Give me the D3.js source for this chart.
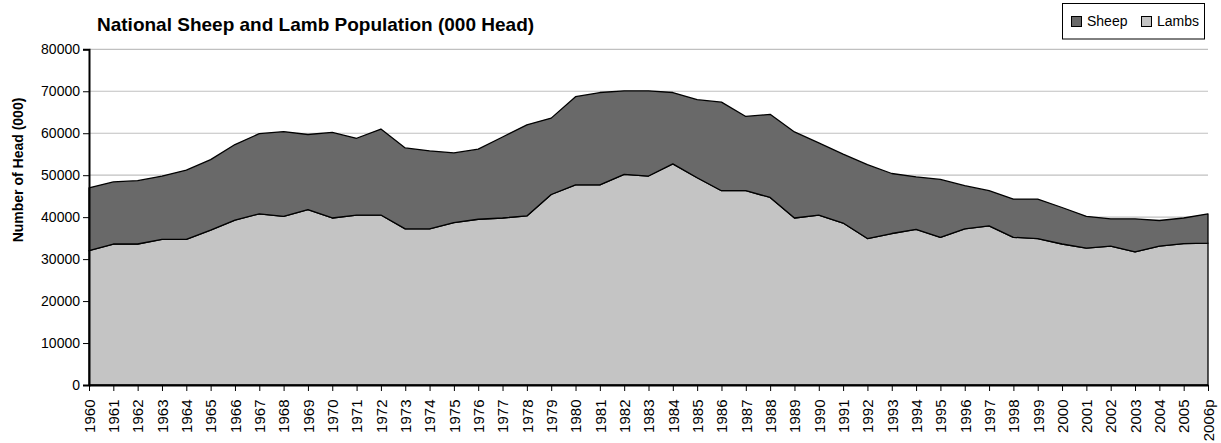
<!DOCTYPE html>
<html>
<head>
<meta charset="utf-8">
<script src="https://cdn.jsdelivr.net/npm/d3@7"></script>
<style>
  body { margin: 0; background: #fff; }
  svg { display: block; font-family: Arial, "Liberation Sans", sans-serif; }
</style>
</head>
<body>
<svg width="1221" height="443"></svg>
<script>
const years = ['1960','1961','1962','1963','1964','1965','1966','1967','1968','1969',
  '1970','1971','1972','1973','1974','1975','1976','1977','1978','1979',
  '1980','1981','1982','1983','1984','1985','1986','1987','1988','1989',
  '1990','1991','1992','1993','1994','1995','1996','1997','1998','1999',
  '2000','2001','2002','2003','2004','2005','2006p'];

// lambs (bottom layer)
const lambs = [32000,33600,33600,34700,34700,36900,39300,40800,40200,41800,
  39800,40500,40500,37200,37200,38700,39500,39800,40300,45400,
  47700,47700,50200,49800,52700,49400,46300,46300,44700,39800,
  40500,38600,34900,36100,37100,35200,37200,37900,35200,34900,
  33600,32600,33100,31700,33100,33700,33800];

// sheep (stacked on top of lambs)
const sheep = [15000,14800,15100,15100,16500,16800,18000,19100,20200,17900,
  20400,18300,20500,19300,18600,16600,16700,19300,21700,18200,
  21000,22000,19900,20300,17000,18600,21100,17700,19800,20500,
  17200,16400,17600,14300,12500,13800,10300,8400,9100,9400,
  8700,7600,6500,7900,6100,6100,7000];

const yTicks = [0,10000,20000,30000,40000,50000,60000,70000,80000];
const seriesNames = ['Sheep', 'Lambs'];
const colors = {Sheep: '#696969', Lambs: '#c4c4c4'};

const svg = d3.select('svg');
const plotLeft = 89, plotRight = 1208, plotTop = 49.3, plotBottom = 385;

const rows = years.map((yr, i) => ({year: yr, Lambs: lambs[i], Sheep: sheep[i]}));

const x = d3.scalePoint().domain(years).range([plotLeft, plotRight]);
const y = d3.scaleLinear().domain([0, 80000]).range([plotBottom, plotTop]);

// gridlines
svg.append('g')
  .selectAll('line')
  .data(yTicks.filter(d => d > 0))
  .enter()
  .append('line')
  .attr('x1', plotLeft).attr('x2', plotRight)
  .attr('y1', d => y(d)).attr('y2', d => y(d))
  .attr('stroke', '#c0c0c0')
  .attr('stroke-width', 1.2);

// stacked areas
const stacked = d3.stack().keys(['Lambs', 'Sheep'])(rows);
const area = d3.area()
  .x(d => x(d.data.year))
  .y0(d => y(d[0]))
  .y1(d => y(d[1]));

svg.append('g')
  .selectAll('path')
  .data(stacked)
  .enter()
  .append('path')
  .attr('d', area)
  .attr('fill', d => colors[d.key])
  .attr('stroke', '#000')
  .attr('stroke-width', 1.3)
  .attr('stroke-linejoin', 'round');

// y axis
const yAxis = svg.append('g')
  .attr('transform', `translate(${plotLeft},0)`)
  .call(d3.axisLeft(y).tickValues(yTicks).tickFormat(d3.format('d')).tickSize(6).tickPadding(3));
yAxis.select('.domain').attr('stroke-width', 2);
yAxis.selectAll('text').attr('font-size', 14).attr('fill', '#000')
  .attr('font-family', 'Arial, "Liberation Sans", sans-serif');

// x axis
const xAxis = svg.append('g')
  .attr('transform', `translate(0,${plotBottom})`)
  .call(d3.axisBottom(x).tickSize(6).tickSizeOuter(0));
xAxis.select('.domain').attr('stroke-width', 2);
xAxis.selectAll('text')
  .attr('font-size', 15)
  .attr('fill', '#000')
  .attr('font-family', 'Arial, "Liberation Sans", sans-serif')
  .attr('text-anchor', 'end')
  .attr('dy', null)
  .attr('y', 0)
  .attr('transform', 'translate(5.3,14.5) rotate(-90)');

// title
svg.append('text')
  .attr('x', 97).attr('y', 30.5)
  .attr('font-size', 19)
  .attr('font-weight', 'bold')
  .text('National Sheep and Lamb Population (000 Head)');

// y axis title
svg.append('text')
  .attr('transform', 'translate(23,170) rotate(-90)')
  .attr('text-anchor', 'middle')
  .attr('font-size', 14)
  .attr('font-weight', 'bold')
  .text('Number of Head (000)');

// legend
const legend = svg.append('g');
legend.append('rect')
  .attr('x', 1062.5).attr('y', 3.5)
  .attr('width', 142).attr('height', 35.5)
  .attr('fill', '#fff').attr('stroke', '#000');

const items = legend.selectAll('g.item')
  .data(seriesNames)
  .enter()
  .append('g')
  .attr('transform', (d, i) => `translate(${i === 0 ? 1071 : 1141},16)`);
items.append('rect')
  .attr('x', 0.5).attr('y', 0.5)
  .attr('width', 10).attr('height', 10)
  .attr('fill', d => colors[d]).attr('stroke', '#000');
items.append('text')
  .attr('x', 16).attr('y', 10)
  .attr('font-size', 14)
  .text(d => d);
</script>
</body>
</html>
